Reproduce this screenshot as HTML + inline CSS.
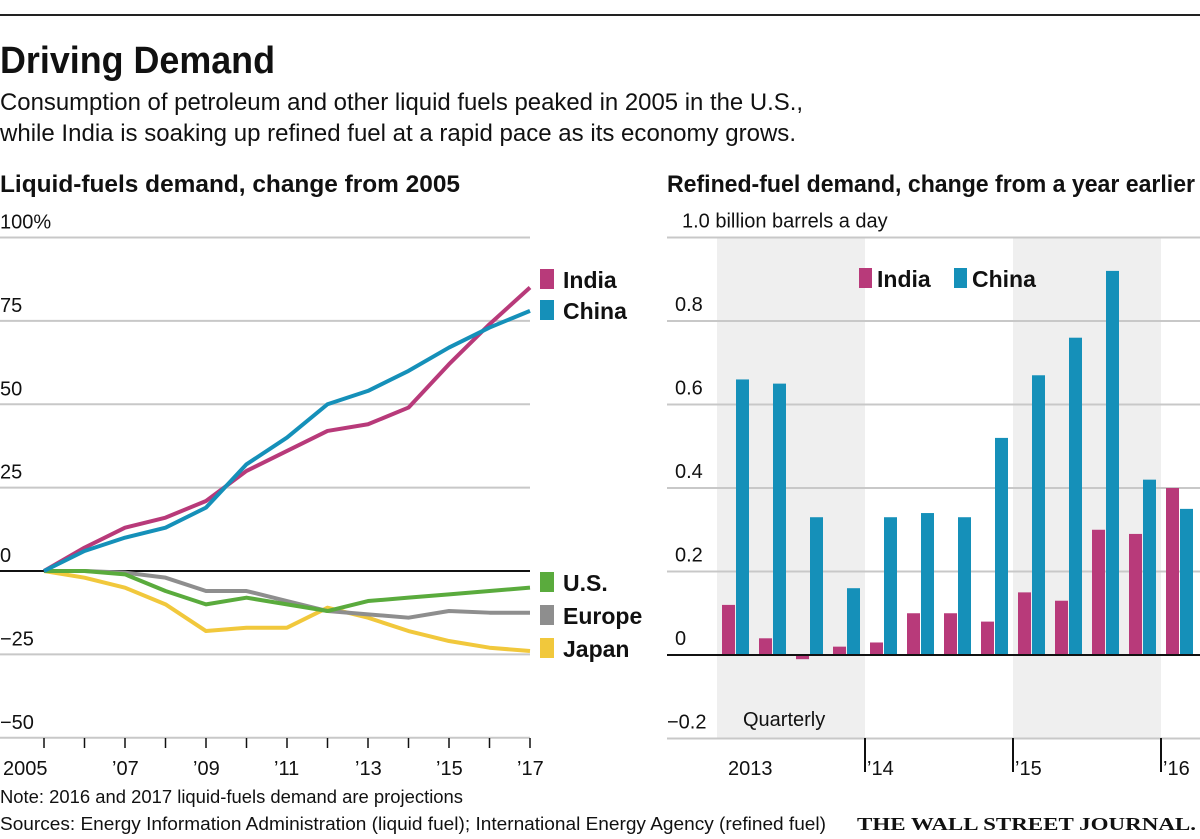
<!DOCTYPE html>
<html><head><meta charset="utf-8">
<style>
html,body{margin:0;padding:0;background:#fff;}
svg{display:block;}
text{font-family:"Liberation Sans Narrow","Liberation Sans",sans-serif;fill:#111;}
.b{font-weight:bold;}
</style></head>
<body>
<svg id="chart" width="1200" height="839" viewBox="0 0 1200 839">
<line x1="0" y1="15" x2="1200" y2="15" stroke="#222" stroke-width="2"/>
<text x="0" y="73" class="b" font-size="38" textLength="275" lengthAdjust="spacingAndGlyphs">Driving Demand</text>
<text x="0" y="110" font-size="24" textLength="803" lengthAdjust="spacingAndGlyphs">Consumption of petroleum and other liquid fuels peaked in 2005 in the U.S.,</text>
<text x="0" y="141" font-size="24" textLength="796" lengthAdjust="spacingAndGlyphs">while India is soaking up refined fuel at a rapid pace as its economy grows.</text>
<text x="0" y="192" class="b" font-size="24" textLength="460" lengthAdjust="spacingAndGlyphs">Liquid-fuels demand, change from 2005</text>
<text x="667" y="192" class="b" font-size="24" textLength="528" lengthAdjust="spacingAndGlyphs">Refined-fuel demand, change from a year earlier</text>
<g id="left"></g>
<g id="right"></g>
<text x="0" y="803" font-size="18" textLength="463" lengthAdjust="spacingAndGlyphs">Note: 2016 and 2017 liquid-fuels demand are projections</text>
<text x="0" y="830" font-size="18" textLength="826" lengthAdjust="spacingAndGlyphs">Sources: Energy Information Administration (liquid fuel); International Energy Agency (refined fuel)</text>
<text x="857" y="830" font-size="18" font-family="Liberation Serif" style="font-family:'Liberation Serif',serif;font-weight:bold" textLength="339" lengthAdjust="spacingAndGlyphs">THE WALL STREET JOURNAL.</text>
</svg>
<script>
// ----- Left chart data -----
const years = [2005,2006,2007,2008,2009,2010,2011,2012,2013,2014,2015,2016,2017];
const yTicks = [100,75,50,25,0,-25,-50];
const yTickLabels = ["100%","75","50","25","0","\u221225","\u221250"];
const xTickLabels = ["2005","","\u201907","","\u201909","","\u201911","","\u201913","","\u201915","","\u201917"];
const india = [0,7,13,16,21,30,36,42,44,49,62,74,85];
const china = [0,6,10,13,19,32,40,50,54,60,67,73,78];
const us = [0,0,-1,-6,-10,-8,-10,-12,-9,-8,-7,-6,-5];
const europe = [0,0,-0.5,-2,-6,-6,-9,-12,-13,-14,-12,-12.5,-12.5];
const japan = [0,-2,-5,-10,-18,-17,-17,-11,-14,-18,-21,-23,-24];
const seriesNames = ["India","China","U.S.","Europe","Japan"];

// ----- Right chart data -----
const quarters = ["2013Q1","2013Q2","2013Q3","2013Q4","2014Q1","2014Q2","2014Q3","2014Q4","2015Q1","2015Q2","2015Q3","2015Q4","2016Q1"];
const indiaBars = [0.12,0.04,-0.01,0.02,0.03,0.10,0.10,0.08,0.15,0.13,0.30,0.29,0.40];
const chinaBars = [0.66,0.65,0.33,0.16,0.33,0.34,0.33,0.52,0.67,0.76,0.92,0.42,0.35];
const rTicks = [1.0,0.8,0.6,0.4,0.2,0,-0.2];
const rTickLabels = ["1.0 billion barrels a day","0.8","0.6","0.4","0.2","0","\u22120.2"];
const yearLabels = ["2013","\u201914","\u201915","\u201916"];

const NS="http://www.w3.org/2000/svg";
function mk(parent,tag,attrs,txt){const e=document.createElementNS(NS,tag);for(const k in attrs)e.setAttribute(k,attrs[k]);if(txt!==undefined)e.textContent=txt;parent.appendChild(e);return e;}

// Left axes
const L=document.getElementById('left');
const ly=v=>571-v*(333.5/100);
const lx=i=>44+i*(486/12);
yTicks.forEach((t,i)=>{
  const g=mk(L,'line',{x1:0,x2:530,y1:ly(t),y2:ly(t),stroke:t===0?'#111':'#c8c8c8','stroke-width':t===0?2:2});
  
  
  const tx=mk(L,'text',{x:0,y:ly(t)-9,'font-size':20},yTickLabels[i]);
  
  
});
years.forEach((y,i)=>{
  const tk=mk(L,'line',{x1:lx(i),x2:lx(i),y1:738,y2:748,stroke:'#111','stroke-width':1.5});
  
  
  if(xTickLabels[i]){
    const t=mk(L,'text',{x:i===0?lx(i)-41:lx(i)-13,y:775,'font-size':20},xTickLabels[i]);
    
    
  }
});
const lineData=[japan,europe,us,india,china];
const lineColors=['#f1c83c','#8e8e8e','#5aab3d','#b83a7a','#1590b9'];
const lineNames=['japan-line','europe-line','us-line','india-line','china-line'];
lineData.forEach((d,k)=>{
  const p=mk(L,'polyline',{points:d.map((v,i)=>lx(i)+','+ly(v)).join(' '),fill:'none',stroke:lineColors[k],'stroke-width':4,'stroke-linejoin':'round'});
  
  
});
// Left legends
const legs=[['India','#b83a7a',279],['China','#1590b9',310],['U.S.','#5aab3d',582],['Europe','#8e8e8e',615],['Japan','#f1c83c',648]];
legs.forEach(l=>{
  const r=mk(L,'rect',{x:540,y:l[2]-10,width:14,height:20,fill:l[1]});
  
  
  const t=mk(L,'text',{x:563,y:l[2]+9,'font-size':23,'class':'b'},l[0]);
  
  
});

// Right chart
const R=document.getElementById('right');
const ry=v=>655-v*417.5;
const qw=37, rx0=717;
const qx=i=>rx0+i*qw;
[[0,4],[8,12]].forEach(b=>{
  const r=mk(R,'rect',{x:qx(b[0]),y:ry(1.0),width:qx(b[1])-qx(b[0]),height:ry(-0.2)-ry(1.0),fill:'#efefef'});
  
  
});
rTicks.forEach((t,i)=>{
  const g=mk(R,'line',{x1:667,x2:1200,y1:ry(t),y2:ry(t),stroke:t===0?'#111':'#c8c8c8','stroke-width':2});
  
  
  const tx=mk(R,'text',{x:i===0?682:(t<0?667:675),y:ry(t)-10,'font-size':20},rTickLabels[i]);
  
  
});
const bw=13;
quarters.forEach((q,i)=>{
  const v1=indiaBars[i],v2=chinaBars[i];
  const a=mk(R,'rect',{x:qx(i)+5,y:Math.min(ry(v1),ry(0)),width:bw,height:Math.abs(ry(v1)-ry(0)),fill:'#b83a7a'});
  
  
  const c=mk(R,'rect',{x:qx(i)+19,y:Math.min(ry(v2),ry(0)),width:bw,height:Math.abs(ry(v2)-ry(0)),fill:'#1590b9'});
  
  
});
mk(R,'line',{x1:667,x2:1200,y1:ry(0),y2:ry(0),stroke:'#111','stroke-width':2});
yearLabels.forEach((y,k)=>{
  const x=qx(k*4);
  if(k>0){
    const tk=mk(R,'line',{x1:x,x2:x,y1:738,y2:772,stroke:'#111','stroke-width':2});
    
    
  }
  const t=mk(R,'text',{x:k===0?x+11:x+2,y:775,'font-size':20},y);
  
  
});
const qt=mk(R,'text',{x:743,y:726,'font-size':20},'Quarterly');


[['India','#b83a7a',859],['China','#1590b9',954]].forEach(l=>{
  const r=mk(R,'rect',{x:l[2],y:268,width:13,height:20,fill:l[1]});
  
  
  const t=mk(R,'text',{x:l[2]+18,y:287,'font-size':23,'class':'b'},l[0]);
  
  
});
</script>
</body></html>
